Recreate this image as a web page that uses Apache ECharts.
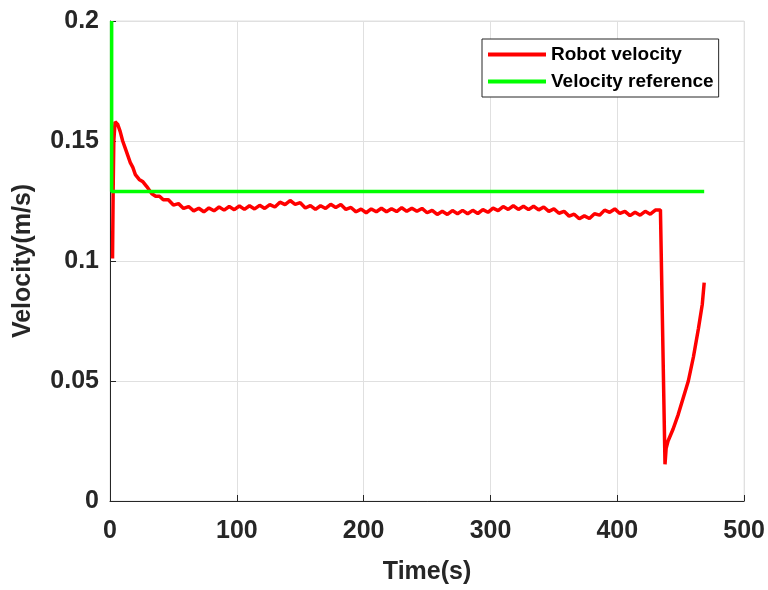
<!DOCTYPE html>
<html>
<head>
<meta charset="utf-8">
<script src="https://cdn.jsdelivr.net/npm/echarts@6/dist/echarts.min.js"></script>
<style>html,body{margin:0;padding:0;background:#fff}#c{width:768px;height:590px}</style>
</head>
<body>
<div id="c"></div>
<script>
// Robot velocity: times (s) and values (m/s)
var robotTime = [2, 2.5, 3, 4, 6, 8, 10, 12, 14, 16, 18, 20, 23, 26, 29, 33, 36, 39, 42,
  46, 50, 54, 58, 62, 66, 70, 74, 78, 82, 86, 90, 94, 98, 102, 106, 110, 114, 118, 122,
  126, 130, 134, 138, 142, 146, 150, 154, 158, 162, 166, 170, 174, 178, 182, 186, 190, 194,
  198, 202, 206, 210, 214, 218, 222, 226, 230, 234, 238, 242, 246, 250, 254, 258, 262, 266,
  270, 274, 278, 282, 286, 290, 294, 298, 302, 306, 310, 314, 318, 322, 326, 330, 334, 338,
  342, 346, 350, 354, 358, 362, 366, 370, 374, 378, 382, 386, 390, 394, 398, 402, 406, 410,
  414, 418, 422, 426, 430, 434, 435.5, 437.6, 438.5, 440, 444, 448, 452, 456, 460, 464, 467, 468.5];
var robotVel = [0.101, 0.130, 0.150, 0.158, 0.157, 0.154, 0.150, 0.147, 0.144, 0.141, 0.139, 0.136, 0.134, 0.133, 0.131, 0.128, 0.127, 0.127, 0.1255,
  0.1255, 0.1233, 0.1239, 0.1219, 0.1227, 0.1209, 0.1220, 0.1205, 0.1221, 0.1209, 0.1225, 0.1212, 0.1227, 0.1214, 0.1229, 0.1215, 0.1230, 0.1217, 0.1232, 0.1219,
  0.1235, 0.1225, 0.1245, 0.1235, 0.1252, 0.1236, 0.1243, 0.1221, 0.1231, 0.1215, 0.1230, 0.1219, 0.1236, 0.1223, 0.1235, 0.1215, 0.1223, 0.1205,
  0.1216, 0.1201, 0.1217, 0.1205, 0.1220, 0.1205, 0.1218, 0.1206, 0.1222, 0.1207, 0.1220, 0.1207, 0.1219, 0.1201, 0.1211, 0.1194, 0.1207, 0.1194,
  0.1210, 0.1197, 0.1211, 0.1197, 0.1211, 0.1198, 0.1214, 0.1203, 0.1220, 0.1210, 0.1227, 0.1215, 0.1230, 0.1215, 0.1228, 0.1214, 0.1228, 0.1213,
  0.1225, 0.1207, 0.1217, 0.1199, 0.1207, 0.1187, 0.1195, 0.1176, 0.1188, 0.1177, 0.1197, 0.1191, 0.1212, 0.1203, 0.1217, 0.1198, 0.1207, 0.1189,
  0.1203, 0.1191, 0.1207, 0.1195, 0.1212, 0.1213, 0.121, 0.0153, 0.022, 0.025, 0.030, 0.036, 0.043, 0.050, 0.060, 0.072, 0.082, 0.091];
// Velocity reference
var refTime = [1.3, 1.3, 468.5];
var refVel = [0.2, 0.129, 0.129];
var seriesNames = ['Robot velocity', 'Velocity reference'];
var xTicks = [0, 100, 200, 300, 400, 500];
var yTicks = [0, 0.05, 0.1, 0.15, 0.2];

function pairs(t, v) { return t.map(function (x, i) { return [x, v[i]]; }); }

var font = "'Liberation Sans', Arial, Helvetica, sans-serif";
var chart = echarts.init(document.getElementById('c'));
chart.setOption({
  animation: false,
  backgroundColor: '#fff',
  grid: { left: 110, right: 23, top: 21, bottom: 85, show: true, borderColor: '#e0e0e0', borderWidth: 1 },
  legend: {
    left: 482, top: 39, orient: 'vertical',
    padding: [6, 5, 6, 6], itemGap: 8, itemWidth: 58, itemHeight: 4,
    backgroundColor: '#fff', borderColor: '#262626', borderWidth: 1,
    icon: 'rect',
    textStyle: { fontFamily: font, fontSize: 19, fontWeight: 'bold', color: '#000' },
    data: seriesNames
  },
  xAxis: {
    type: 'value', min: xTicks[0], max: xTicks[xTicks.length - 1], interval: 100,
    name: 'Time(s)', nameLocation: 'middle', nameGap: 59,
    nameTextStyle: { fontFamily: font, fontSize: 25, fontWeight: 'bold', color: '#262626' },
    axisLine: { show: true, onZero: false, lineStyle: { color: '#262626', width: 1 } },
    axisTick: { show: true, inside: true, length: 6, lineStyle: { color: '#262626' } },
    axisLabel: { fontFamily: font, fontSize: 25, fontWeight: 'bold', color: '#262626', margin: 18 },
    splitLine: { show: true, lineStyle: { color: '#e0e0e0', width: 1 } }
  },
  yAxis: {
    type: 'value', min: yTicks[0], max: yTicks[yTicks.length - 1], interval: 0.05,
    name: 'Velocity(m/s)', nameLocation: 'middle', nameGap: 74,
    nameTextStyle: { fontFamily: font, fontSize: 25, fontWeight: 'bold', color: '#262626' },
    axisLine: { show: true, onZero: false, lineStyle: { color: '#262626', width: 1 } },
    axisTick: { show: true, inside: true, length: 6, lineStyle: { color: '#262626' } },
    axisLabel: { fontFamily: font, fontSize: 25, fontWeight: 'bold', color: '#262626', margin: 11,
      padding: [5, 0, 0, 0],
      formatter: function (v) { return String(Math.round(v * 100) / 100); } },
    splitLine: { show: true, lineStyle: { color: '#e0e0e0', width: 1 } }
  },
  series: [
    { name: seriesNames[0], type: 'line', data: pairs(robotTime, robotVel), symbol: 'none',
      lineStyle: { color: '#ff0000', width: 3.5 }, itemStyle: { color: '#ff0000' }, clip: true },
    { name: seriesNames[1], type: 'line', data: pairs(refTime, refVel), symbol: 'none',
      lineStyle: { color: '#00ff00', width: 3.5 }, itemStyle: { color: '#00ff00' }, clip: true }
  ]
});
</script>
</body>
</html>
